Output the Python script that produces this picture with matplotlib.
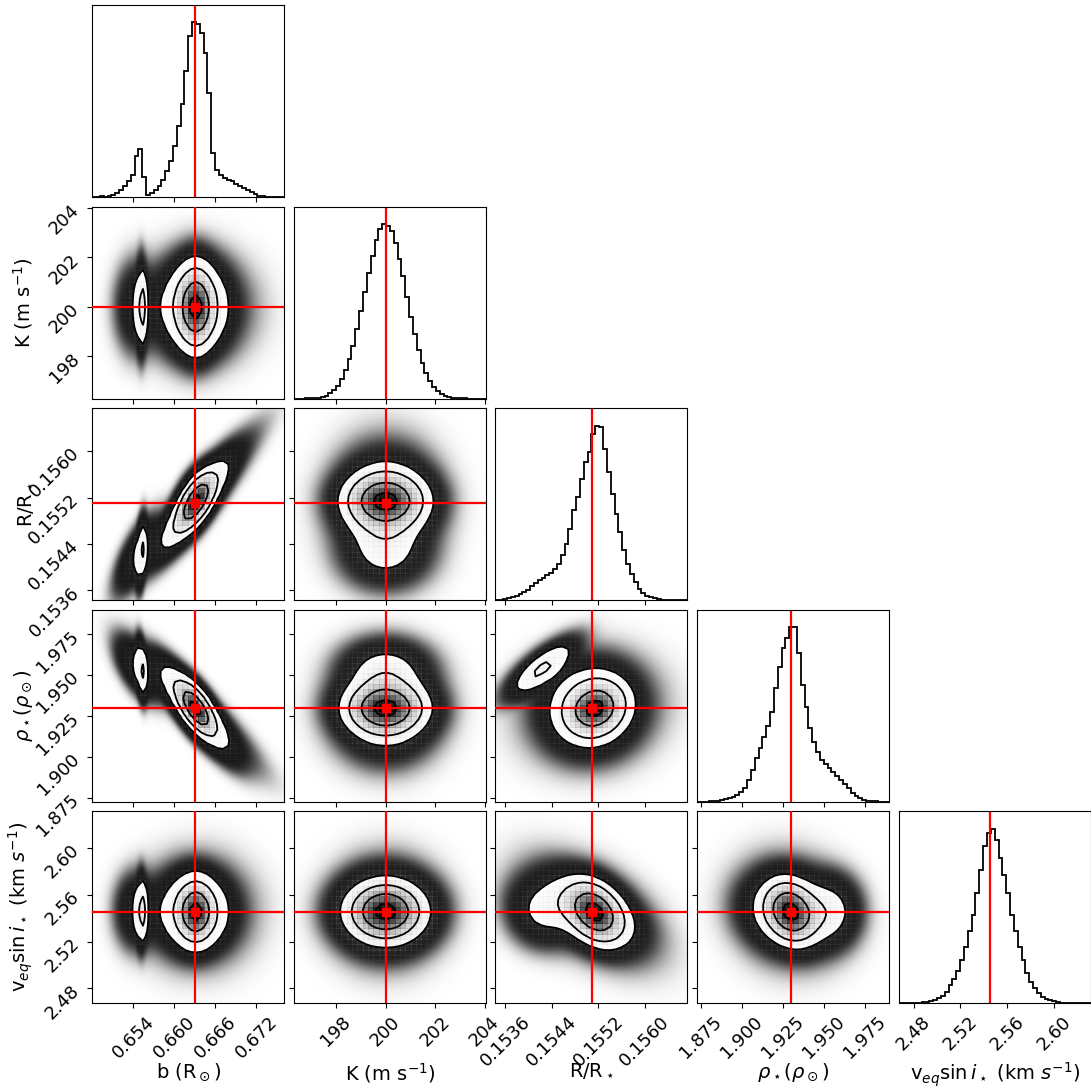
import numpy as np
import matplotlib.pyplot as plt
from matplotlib.colors import LinearSegmentedColormap

# axis labels, truths, plot ranges and ticks for the five parameters
labels = [r"b (R$_\odot$)", r"K (m s$^{-1}$)", r"R/R$_\star$",
          r"$\rho_\star(\rho_\odot)$", r"v$_{eq}\sin i_\star$ (km $s^{-1}$)"]
truths = [0.6630, 200.0, 0.1551, 1.9300, 2.5455]
ranges = [(0.6480, 0.67614), (196.30, 204.05), (0.15343, 0.15674),
          (1.8727, 1.9900), (2.4672, 2.6313)]
tick_vals = [[0.654, 0.660, 0.666, 0.672],
             [198, 200, 202, 204],
             [0.1536, 0.1544, 0.1552, 0.1560],
             [1.875, 1.900, 1.925, 1.950, 1.975],
             [2.48, 2.52, 2.56, 2.60]]
tick_text = [["0.654", "0.660", "0.666", "0.672"],
             ["198", "200", "202", "204"],
             ["0.1536", "0.1544", "0.1552", "0.1560"],
             ["1.875", "1.900", "1.925", "1.950", "1.975"],
             ["2.48", "2.52", "2.56", "2.60"]]

# 1D marginal histograms (50 bins across each range)
hist_b = [1, 1, 2, 1, 3, 6, 12, 20, 32, 47, 67, 122, 145, 60, 7, 12, 20, 32,
          52, 77, 107, 152, 212, 280, 377, 482, 524, 520, 492, 432, 312, 132,
          82, 67, 57, 52, 47, 40, 34, 27, 20, 14, 8, 4, 2, 1, 1, 0, 0, 0]
hist_K = [0, 0, 0.2, 0.5, 1, 2, 3, 5, 9, 16, 25, 39, 58, 84, 117, 156, 208,
          262, 318, 375, 427, 474, 505, 521, 516, 500, 464, 417, 365, 302, 245,
          193, 146, 107, 76, 52, 34, 22, 14, 8, 5, 3, 1.5, 0.7, 0.4, 0.2, 0, 0,
          0, 0]
hist_R = [1, 2, 4, 6, 9, 13, 18, 24, 32, 42, 52, 60, 67, 75, 82, 95, 110,
          135, 168, 215, 270, 310, 365, 415, 445, 500, 525, 522, 455, 385, 320,
          260, 205, 150, 110, 80, 55, 35, 22, 14, 9, 6, 4, 2, 1, 0.5, 0, 0, 0, 0]
hist_rho = [0, 0, 0.5, 1, 2, 3, 5, 8, 11, 15, 21, 30, 42, 65, 95, 130, 160,
            193, 227, 270, 340, 405, 460, 492, 523, 523, 445, 350, 285, 220,
            180, 150, 125, 112, 100, 90, 78, 65, 52, 40, 27, 18, 11, 6, 3, 2,
            1, 0, 0, 0]
hist_v = [0, 0, 0, 0.5, 1, 2, 3, 5, 7, 10, 16, 23, 35, 54, 74, 98, 130, 170,
          215, 265, 330, 400, 470, 510, 522, 490, 435, 385, 330, 265, 215, 170,
          130, 90, 65, 45, 30, 20, 13, 9, 6, 4, 2, 1, 0.5, 0, 0, 0, 0, 0]
hists = [hist_b, hist_K, hist_R, hist_rho, hist_v]

# shape of the 2D clouds: main blob (core, broad, tail) + secondary mode (narrow, broad)
mix_weight = [0.43, 0.39, 0.08, 0.05, 0.05]
mix_mean = [[0.6632, 200.0, 0.15515, 1.9298, 2.5455],
            [0.6630, 200.0, 0.15508, 1.9302, 2.5455],
            [0.6635, 200.0, 0.15510, 1.9290, 2.5455],
            [0.6552, 200.0, 0.15425, 1.9540, 2.5460],
            [0.6546, 200.0, 0.15422, 1.9545, 2.5460]]
mix_sigma = [[0.0014, 0.86, 0.00025, 0.0082, 0.0135],
             [0.0026, 0.92, 0.00040, 0.0135, 0.0160],
             [0.0042, 1.10, 0.00060, 0.0170, 0.0240],
             [0.0004, 0.86, 0.00028, 0.0085, 0.0140],
             [0.0016, 0.92, 0.00032, 0.0095, 0.0160]]
mix_corr = {(0, 2): [0.55, 0.85, 0.93, 0.30, 0.70],
            (0, 3): [-0.60, -0.85, -0.90, -0.30, -0.60],
            (2, 3): [0.15, 0.05, 0.10, 0.78, 0.75],
            (2, 4): [-0.30, -0.45, -0.50, 0.0, -0.20],
            (3, 4): [-0.20, -0.10, -0.10, 0.0, 0.0]}

n_samples = 4e5
nbins2d = 36
levels = 1.0 - np.exp(-0.5 * np.arange(0.5, 2.1, 0.5) ** 2)
density_cmap = LinearSegmentedColormap.from_list("density_cmap", ["k", (1, 1, 1, 0)])


def mixture_pdf(j, i, xx, yy):
    p = np.zeros_like(xx)
    for c, w in enumerate(mix_weight):
        mx, my = mix_mean[c][j], mix_mean[c][i]
        sx, sy = mix_sigma[c][j], mix_sigma[c][i]
        r = mix_corr.get((j, i), [0.0] * len(mix_weight))[c]
        zx = (xx - mx) / sx
        zy = (yy - my) / sy
        q = (zx ** 2 - 2 * r * zx * zy + zy ** 2) / (1 - r ** 2)
        p += w * np.exp(-0.5 * q) / (2 * np.pi * sx * sy * np.sqrt(1 - r ** 2))
    return p


ndim = 5
fig, axes = plt.subplots(ndim, ndim, figsize=(10.91, 10.90), dpi=100)
plt.subplots_adjust(left=0.0846, right=0.9997, bottom=0.0795, top=0.9954,
                    wspace=0.05, hspace=0.05)

for i in range(ndim):
    for j in range(ndim):
        ax = axes[i, j]
        if j > i:
            ax.set_frame_on(False)
            ax.set_xticks([])
            ax.set_yticks([])
            continue
        xlo, xhi = ranges[j]
        if i == j:
            edges = np.linspace(xlo, xhi, len(hists[i]) + 1)
            ax.stairs(hists[i], edges, color="k", lw=1.3)
            ax.set_ylim(0, 1.1 * max(hists[i]))
            ax.set_yticks([])
            ax.axvline(truths[i], color="r", lw=1.6)
        else:
            ylo, yhi = ranges[i]
            # cloud of points: opacity from expected points per pixel
            fx = np.linspace(xlo, xhi, 240)
            fy = np.linspace(ylo, yhi, 240)
            FX, FY = np.meshgrid(fx, fy)
            pf = mixture_pdf(j, i, FX, FY)
            pix = (xhi - xlo) / 192.0 * (yhi - ylo) / 192.0
            alpha = 1.0 - np.exp(-n_samples * pf * pix * 0.63)
            rgba = np.zeros(pf.shape + (4,))
            rgba[..., :3] = 0.08
            rgba[..., 3] = np.clip(alpha, 0, 1)
            ax.imshow(rgba, extent=(xlo, xhi, ylo, yhi), origin="lower",
                      aspect="auto", interpolation="bilinear", zorder=0)

            # coarse 2d histogram
            xe = np.linspace(xlo, xhi, nbins2d + 1)
            ye = np.linspace(ylo, yhi, nbins2d + 1)
            dxb = xe[1] - xe[0]
            dyb = ye[1] - ye[0]
            xc = 0.5 * (xe[1:] + xe[:-1])
            yc = 0.5 * (ye[1:] + ye[:-1])
            XC, YC = np.meshgrid(xc, yc)
            H = mixture_pdf(j, i, XC, YC)
            xc2 = np.concatenate([xc[0] - dxb * np.arange(2, 0, -1), xc, xc[-1] + dxb * np.arange(1, 3)])
            yc2 = np.concatenate([yc[0] - dyb * np.arange(2, 0, -1), yc, yc[-1] + dyb * np.arange(1, 3)])
            XC2, YC2 = np.meshgrid(xc2, yc2)
            H2 = mixture_pdf(j, i, XC2, YC2)

            Hflat = np.sort(H.ravel())[::-1]
            sm = np.cumsum(Hflat)
            sm /= sm[-1]
            V = np.sort([Hflat[sm <= v0][-1] for v0 in levels])

            ax.contourf(XC2, YC2, H2, [V.min(), H2.max() * 1.0001],
                        colors=["white"], antialiased=False, zorder=1)
            ax.pcolor(xe, ye, H.max() - H, cmap=density_cmap, zorder=2)
            ax.contour(XC2, YC2, H2, V, colors="k", linewidths=1.3, zorder=3)

            ax.axvline(truths[j], color="r", lw=1.6, zorder=4)
            ax.axhline(truths[i], color="r", lw=1.6, zorder=4)
            ax.plot(truths[j], truths[i], "s", color="r", ms=6, zorder=5)
            ax.set_ylim(ylo, yhi)
            ax.set_yticks(tick_vals[i])
            if j == 0:
                ax.set_yticklabels(tick_text[i], rotation=45, fontsize=13)
                ax.set_ylabel(labels[i], fontsize=14)
                ax.yaxis.set_label_coords(-0.3, 0.5)
            else:
                ax.set_yticklabels([])

        ax.set_xlim(xlo, xhi)
        ax.set_xticks(tick_vals[j])
        if i == ndim - 1:
            ax.set_xticklabels(tick_text[j], rotation=45, fontsize=13)
            ax.set_xlabel(labels[j], fontsize=14)
            ax.xaxis.set_label_coords(0.5, -0.3)
        else:
            ax.set_xticklabels([])

fig.savefig("out.png", dpi=100)
